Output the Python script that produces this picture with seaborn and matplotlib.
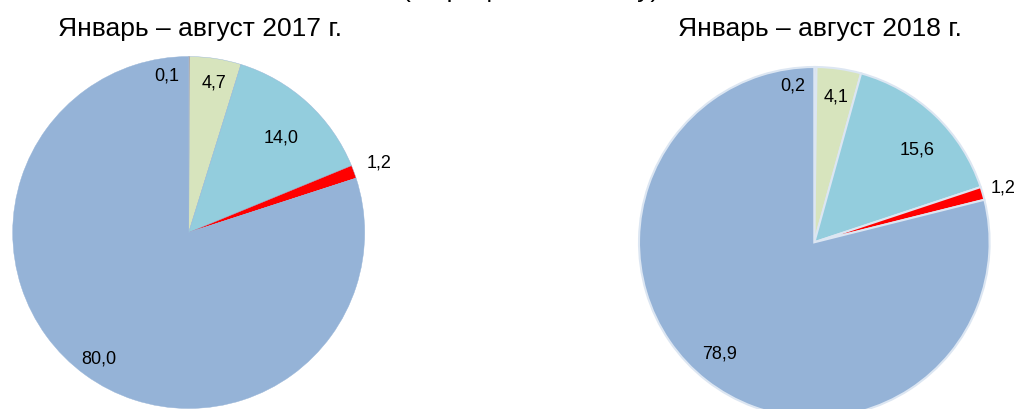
import matplotlib
matplotlib.use("Agg")
import matplotlib.pyplot as plt
import numpy as np
import seaborn as sns

# data (order: clockwise from 12 o'clock)
shares_2017 = [0.1, 4.7, 14.0, 1.2, 80.0]
shares_2018 = [0.2, 4.1, 15.6, 1.2, 78.9]
titles = ["Январь – август 2017 г.", "Январь – август 2018 г."]
subtitle = "(в процентах к итогу)"

slice_colors = ["#E46C0A", "#D7E4BD", "#93CDDD", "#FF0000", "#95B3D7"]

sns.set_theme(style="white")
plt.rcParams['font.family'] = ['Liberation Sans', 'DejaVu Sans']
plt.rcParams['text.color'] = 'black'

W, H = 1018, 410
fig = plt.figure(figsize=(W / 100, H / 100), dpi=100)


def fmt(v):
    return f"{v:.1f}".replace(".", ",")


def draw_pie(ax, vals, edge, lw, dists, offs):
    wedges, _ = ax.pie(vals, colors=slice_colors, startangle=90, counterclock=False,
                       radius=1.0, wedgeprops=dict(edgecolor=edge, linewidth=lw))
    for w, v, d, o in zip(wedges, vals, dists, offs):
        ang = np.deg2rad((w.theta1 + w.theta2) / 2 + o)
        ax.text(d * np.cos(ang), d * np.sin(ang), fmt(v), ha="center", va="center",
                fontsize=13, color="black")
    ax.set_xlim(-1, 1)
    ax.set_ylim(-1, 1)
    ax.set_aspect("equal")
    ax.axis("off")


# left pie: centre (188.7, 233.5), r 176 px
r1 = 176
ax1 = fig.add_axes([(188.7 - r1) / W, (H - 233.5 - r1) / H, 2 * r1 / W, 2 * r1 / H])
draw_pie(ax1, shares_2017, "#95B3D7", 0.3,
         [0.905, 0.865, 0.755, 1.15, 0.878], [8.1, -0.8, -1.5, 0.1, 0.5])

# right pie: centre (814.3, 243.3), r 175.3 px
r2 = 175.3
ax2 = fig.add_axes([(814.3 - r2) / W, (H - 243.3 - r2) / H, 2 * r2 / W, 2 * r2 / H])
draw_pie(ax2, shares_2018, "#DCE6F2", 1.5,
         [0.907, 0.845, 0.79, 1.122, 0.83], [8.0, -0.3, -4.1, 0.2, -2.4])

fig.text(200 / W, 1 - 36 / H, titles[0], ha="center", va="baseline", fontsize=19, color="black")
fig.text(820 / W, 1 - 36 / H, titles[1], ha="center", va="baseline", fontsize=19, color="black")
# heading above the crop: only the descenders show, as in the source
fig.text(531 / W, 1 + 3.5 / H, subtitle, ha="center", va="baseline", fontsize=19, color="black")

fig.savefig("out.png", dpi=100)
